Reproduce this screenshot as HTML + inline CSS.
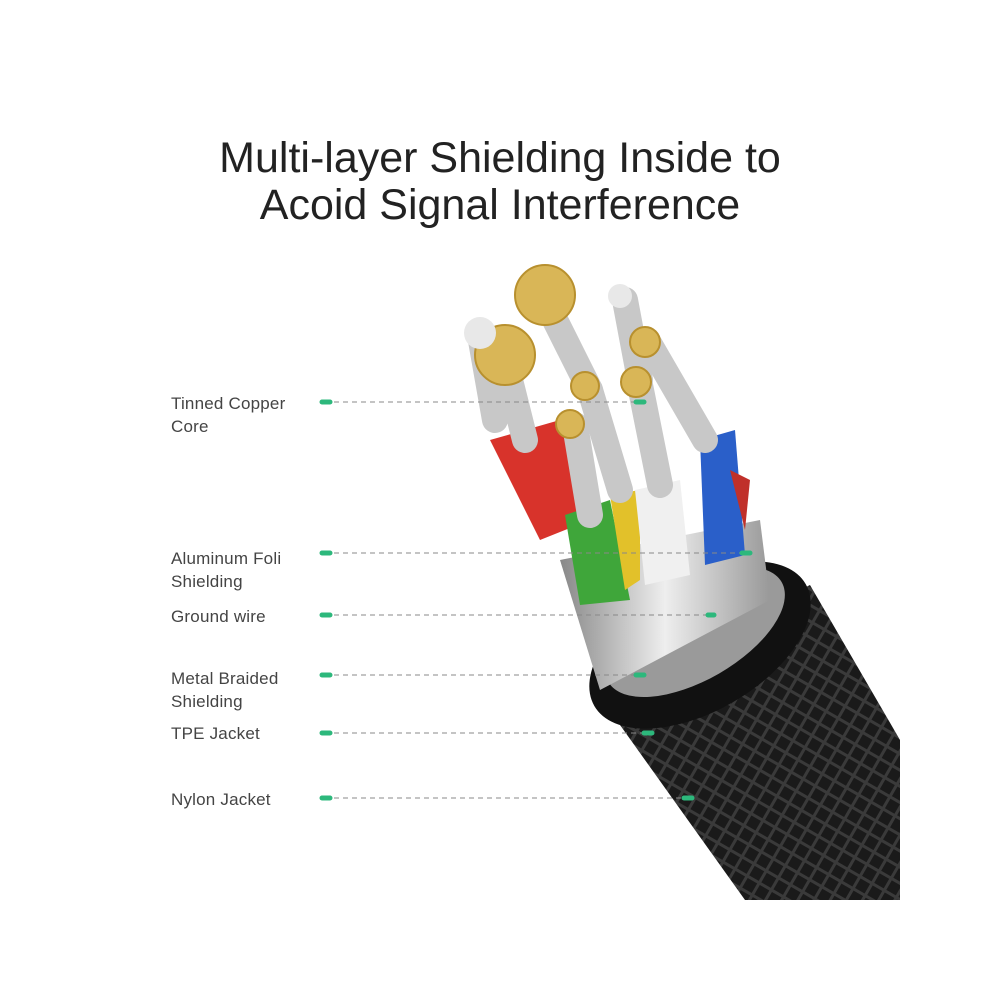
<!DOCTYPE html><html><head><style>
body{margin:0;background:#fff;width:1000px;height:1000px;overflow:hidden;font-family:"Liberation Sans",sans-serif}
.t{position:absolute;left:0;width:1000px;text-align:center;font-size:43px;color:#222;}
.l{position:absolute;left:171px;font-size:17px;color:#444;line-height:23px;letter-spacing:.2px}
</style></head><body>
<div class="t" style="top:134px">Multi-layer Shielding Inside to</div>
<div class="t" style="top:181px">Acoid Signal Interference</div>
<div class="l" style="top:392px">Tinned Copper<br>Core</div>
<div class="l" style="top:547px">Aluminum Foli<br>Shielding</div>
<div class="l" style="top:605px">Ground wire</div>
<div class="l" style="top:667px">Metal Braided<br>Shielding</div>
<div class="l" style="top:722px">TPE Jacket</div>
<div class="l" style="top:788px">Nylon Jacket</div>
<svg width="1000" height="1000" style="position:absolute;left:0;top:0">
<defs>
<linearGradient id="s" x1="0" x2="1"><stop offset="0" stop-color="#888"/><stop offset=".5" stop-color="#eee"/><stop offset="1" stop-color="#999"/></linearGradient>
<pattern id="br" width="14" height="14" patternUnits="userSpaceOnUse" patternTransform="rotate(30)"><rect width="14" height="14" fill="#1a1a1a"/><path d="M0 7h14M7 0v14" stroke="#3a3a3a" stroke-width="3"/></pattern>
</defs>
<path d="M595 690 L745 900 L900 900 L900 740 L810 585 Z" fill="url(#br)"/>
<ellipse cx="700" cy="645" rx="122" ry="66" transform="rotate(-30 700 645)" fill="#111"/>
<ellipse cx="695" cy="632" rx="100" ry="48" transform="rotate(-30 695 632)" fill="#9a9a9a"/>
<path d="M560 560 L600 690 L770 600 L760 520 Z" fill="url(#s)"/>
<path d="M490 440 L560 420 L590 520 L540 540 Z" fill="#d8332b"/>
<path d="M700 440 L735 430 L745 555 L705 565 Z" fill="#2a5fc9"/>
<path d="M730 470 L750 480 L745 530 Z" fill="#c0302a"/>
<path d="M565 515 L610 500 L630 600 L580 605 Z" fill="#3fa63a"/>
<path d="M610 495 L640 490 L640 580 L625 590 Z" fill="#e2c12a"/>
<path d="M635 490 L680 480 L690 575 L645 585 Z" fill="#f0f0f0"/>
<g stroke="#c8c8c8" stroke-width="26" stroke-linecap="round">
<line x1="505" y1="360" x2="525" y2="440"/>
<line x1="545" y1="300" x2="590" y2="390"/>
<line x1="575" y1="425" x2="590" y2="515"/>
<line x1="590" y1="390" x2="620" y2="490"/>
<line x1="640" y1="385" x2="660" y2="485"/>
<line x1="650" y1="345" x2="705" y2="440"/>
<line x1="625" y1="300" x2="640" y2="380"/>
<line x1="480" y1="335" x2="495" y2="420"/>
</g>
<g fill="#d9b657" stroke="#b8902e" stroke-width="2">
<circle cx="545" cy="295" r="30"/><circle cx="505" cy="355" r="30"/>
<circle cx="645" cy="342" r="15"/><circle cx="636" cy="382" r="15"/>
<circle cx="585" cy="386" r="14"/><circle cx="570" cy="424" r="14"/>
</g>
<circle cx="480" cy="333" r="16" fill="#e8e8e8"/>
<circle cx="620" cy="296" r="12" fill="#e8e8e8"/>
<g stroke="#888" stroke-dasharray="5 4" stroke-width="1">
<line x1="334" y1="402" x2="640" y2="402"/><line x1="334" y1="553" x2="745" y2="553"/>
<line x1="334" y1="615" x2="710" y2="615"/><line x1="334" y1="675" x2="640" y2="675"/>
<line x1="334" y1="733" x2="650" y2="733"/><line x1="334" y1="798" x2="690" y2="798"/>
</g>
<g stroke="#2db87c" stroke-width="5" stroke-linecap="round">
<line x1="322" y1="402" x2="330" y2="402"/><line x1="322" y1="553" x2="330" y2="553"/>
<line x1="322" y1="615" x2="330" y2="615"/><line x1="322" y1="675" x2="330" y2="675"/>
<line x1="322" y1="733" x2="330" y2="733"/><line x1="322" y1="798" x2="330" y2="798"/>
<line x1="636" y1="402" x2="644" y2="402"/><line x1="742" y1="553" x2="750" y2="553"/>
<line x1="708" y1="615" x2="714" y2="615"/><line x1="636" y1="675" x2="644" y2="675"/>
<line x1="644" y1="733" x2="652" y2="733"/><line x1="684" y1="798" x2="692" y2="798"/>
</g>
</svg>
</body></html>
